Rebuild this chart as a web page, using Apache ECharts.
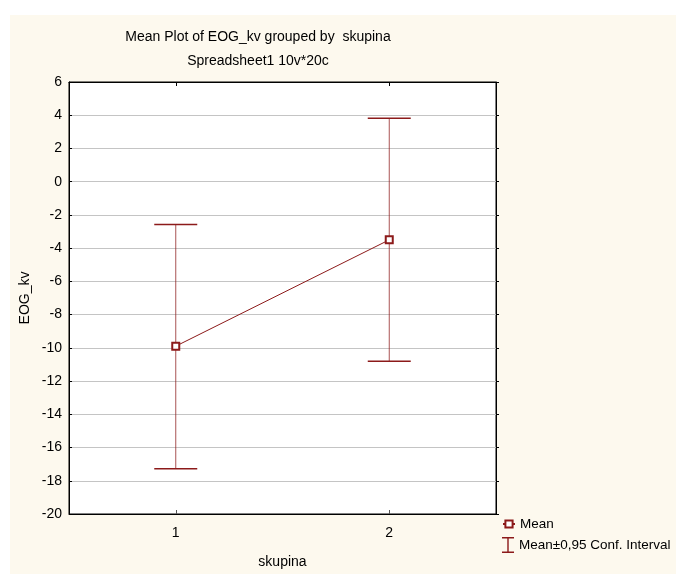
<!DOCTYPE html>
<html>
    <head>
        <meta charset="utf-8">
        <title>Mean Plot</title>
        <script src="https://cdn.jsdelivr.net/npm/echarts@6/dist/echarts.min.js"></script>
        <style>
            html, body { margin: 0; padding: 0; background: #fff; }
            #chart { width: 676px; height: 574px; }
        </style>
    </head>
    <body>
        <div id="chart"></div>
        <script>
            // skupina groups and the mean / 95% CI of EOG_kv
            var groups = ['1', '2'];
            var means = [-9.9, -3.5];
            var lower = [-17.27, -10.81];
            var upper = [-2.57, 3.82];

            var red = '#8c1a1a';
            var font = 'Liberation Sans, Arial, sans-serif';

            var meanData = [], ciData = [];
            for (var i = 0; i < groups.length; i++) {
                meanData.push([i + 1, means[i]]);
                ciData.push([i + 1, lower[i], upper[i]]);
            }

            function renderBar(params, api) {
                var x = api.value(0);
                var lo = api.coord([x, api.value(1)]);
                var hi = api.coord([x, api.value(2)]);
                var half = 21.5;
                return {
                    type: 'group',
                    children: [
                        { type: 'line', shape: { x1: hi[0], y1: hi[1], x2: lo[0], y2: lo[1] },
                          style: { stroke: red, lineWidth: 1, opacity: 0.75 } },
                        { type: 'line', shape: { x1: hi[0] - half, y1: hi[1], x2: hi[0] + half, y2: hi[1] },
                          style: { stroke: red, lineWidth: 1.5 } },
                        { type: 'line', shape: { x1: lo[0] - half, y1: lo[1], x2: lo[0] + half, y2: lo[1] },
                          style: { stroke: red, lineWidth: 1.5 } }
                    ]
                };
            }

            var option = {
                animation: false,
                backgroundColor: '#fff',
                textStyle: { fontFamily: font, color: '#000' },
                graphic: [{
                    type: 'rect', left: 10, top: 15, z: -10,
                    shape: { width: 666, height: 559 },
                    style: { fill: '#fdf9ee' }
                }],
                title: {
                    text: 'Mean Plot of EOG_kv grouped by  skupina\nSpreadsheet1 10v*20c',
                    left: 258, top: 25, textAlign: 'center', padding: 0,
                    textStyle: { fontFamily: font, fontSize: 14, fontWeight: 'normal', color: '#000', lineHeight: 24 }
                },
                grid: {
                    left: 69, top: 82, width: 427, height: 437,
                    show: true, backgroundColor: '#fff', borderColor: '#000', borderWidth: 1
                },
                legend: [{
                    orient: 'vertical', left: 502, top: 517, padding: 0,
                    itemWidth: 12, itemHeight: 9,
                    itemStyle: { borderWidth: 1 },
                    textStyle: { fontFamily: font, fontSize: 13.5, color: '#000' },
                    data: ['Mean']
                }, {
                    orient: 'vertical', left: 502, top: 537, padding: 0,
                    itemWidth: 12, itemHeight: 16,
                    textStyle: { fontFamily: font, fontSize: 13.5, color: '#000' },
                    data: [{
                        name: 'Mean±0,95 Conf. Interval',
                        icon: 'path://M0,0h12v1.5h-12z M5.3,0h1.4v16h-1.4z M0,14.5h12v1.5h-12z',
                        itemStyle: { color: red }
                    }]
                }],
                xAxis: [{
                    type: 'value', min: 0.5, max: 2.5,
                    name: 'skupina', nameLocation: 'middle', nameGap: 41,
                    nameTextStyle: { fontFamily: font, fontSize: 14, color: '#000' },
                    axisLine: { show: true, onZero: false, lineStyle: { color: '#000' } },
                    axisTick: { show: true, inside: true, length: 4, customValues: [1, 2], lineStyle: { color: '#555' } },
                    axisLabel: { margin: 12, fontSize: 14, color: '#000', fontFamily: font,
                        customValues: [1, 2],
                        formatter: function (v) { return groups[Math.round(v) - 1]; } },
                    splitLine: { show: false }
                }, {
                    type: 'value', position: 'top', min: 0.5, max: 2.5,
                    axisLine: { show: true, onZero: false, lineStyle: { color: '#000' } },
                    axisTick: { show: true, inside: true, length: 4, customValues: [1, 2], lineStyle: { color: '#000' } },
                    axisLabel: { show: false },
                    splitLine: { show: false }
                }],
                yAxis: [{
                    type: 'value', min: -20, max: 6, interval: 2,
                    name: 'EOG_kv', nameLocation: 'middle', nameGap: 37, nameMoveOverlap: false,
                    nameTextStyle: { fontFamily: font, fontSize: 14, color: '#000' },
                    axisLine: { show: true, onZero: false, lineStyle: { color: '#000' } },
                    axisTick: { show: true, inside: true, length: 3, lineStyle: { color: '#000' } },
                    axisLabel: { margin: 7, fontSize: 14, color: '#000', fontFamily: font },
                    splitLine: { show: true, lineStyle: { color: '#c4c4c4', width: 1 } }
                }, {
                    type: 'value', position: 'right', min: -20, max: 6, interval: 2,
                    axisLine: { show: true, onZero: false, lineStyle: { color: '#000' } },
                    axisTick: { show: true, length: 3, lineStyle: { color: '#000' } },
                    axisLabel: { show: false },
                    splitLine: { show: false }
                }],
                series: [{
                    name: 'Mean±0,95 Conf. Interval',
                    type: 'custom',
                    renderItem: renderBar,
                    itemStyle: { color: red },
                    encode: { x: 0, y: [1, 2] },
                    data: ciData,
                    z: 2
                }, {
                    name: 'Mean',
                    type: 'line',
                    data: meanData,
                    symbol: 'emptyRect',
                    symbolSize: 7,
                    itemStyle: { color: red, borderWidth: 1 },
                    lineStyle: { color: red, width: 1 },
                    z: 3
                }]
            };

            var chart = echarts.init(document.getElementById('chart'));
            chart.setOption(option);
        </script>
    </body>
</html>
